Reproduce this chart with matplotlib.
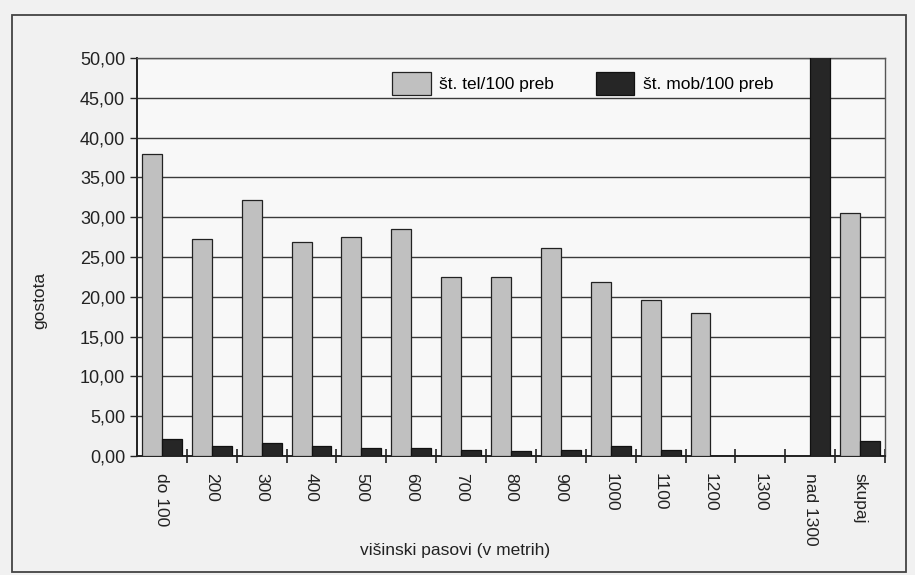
import numpy as np
import matplotlib
matplotlib.use("Agg")
import matplotlib.pyplot as plt
from matplotlib.patches import Rectangle
from matplotlib.ticker import FuncFormatter

plt.rcParams['font.family'] = ['Liberation Sans', 'DejaVu Sans']

categories = ["do 100", "200", "300", "400", "500", "600", "700", "800",
              "900", "1000", "1100", "1200", "1300", "nad 1300", "skupaj"]
tel = [38.0, 27.3, 32.2, 26.9, 27.5, 28.5, 22.5, 22.5,
       26.1, 21.8, 19.6, 18.0, 0.0, 0.0, 30.5]
mob = [2.1, 1.2, 1.65, 1.3, 1.0, 1.0, 0.8, 0.6,
       0.75, 1.2, 0.8, 0.0, 0.0, 60.0, 1.9]
yticks = [0, 5, 10, 15, 20, 25, 30, 35, 40, 45, 50]

W, H = 915, 575
fig = plt.figure(figsize=(W / 100, H / 100), dpi=100, facecolor="#f1f1f1")
ax = fig.add_axes([137 / W, 1 - 456 / H, (885 - 137) / W, (456 - 58) / H])
ax.set_facecolor("#f8f8f8")

x = np.arange(len(categories))
bw = 0.4
ax.bar(x - bw / 2, tel, bw, color="#c0c0c0", edgecolor="#222222",
       linewidth=0.9, label="št. tel/100 preb", zorder=3)
ax.bar(x + bw / 2, mob, bw, color="#262626", edgecolor="#111111",
       linewidth=0.9, label="št. mob/100 preb", zorder=3)

ax.set_xlim(-0.5, len(categories) - 0.5)
ax.set_ylim(0, 50)
ax.set_yticks(yticks)
ax.yaxis.set_major_formatter(FuncFormatter(lambda v, p: f"{v:.2f}".replace(".", ",")))
ax.yaxis.grid(True, color="#3a3a3a", linewidth=1.0, zorder=1)
ax.set_axisbelow(True)

ax.set_xticks(x)
ax.set_xticklabels(categories, rotation=270, va="top", ha="center")
ax.set_xticks(np.arange(0.5, len(categories) - 0.5 + 0.01, 1), minor=True)
ax.tick_params(axis="x", which="major", length=0, pad=12, labelsize=12.5, colors="#222222")
ax.tick_params(axis="x", which="minor", length=10, direction="inout", width=1.2, color="#222222")
ax.tick_params(axis="y", length=5, width=1.0, labelsize=13, colors="#222222")

for s in ["left", "bottom"]:
    ax.spines[s].set_color("#222222")
    ax.spines[s].set_linewidth(1.4)
for s in ["top", "right"]:
    ax.spines[s].set_color("#555555")
    ax.spines[s].set_linewidth(1.0)

ax.set_ylabel("gostota", fontsize=12.5, color="#222222", labelpad=0)
ax.yaxis.set_label_coords(-0.12, 0.39)
fig.text(455 / W, 1 - 550 / H, "višinski pasovi (v metrih)", fontsize=12.5,
         color="#222222", ha="center", va="center")

ax.legend(loc="upper center", bbox_to_anchor=(0.596, 1.0), ncol=2, frameon=False,
          fontsize=12.5, handlelength=2.2, handleheight=1.7, columnspacing=2.4,
          handletextpad=0.5, borderaxespad=0.4)

fig.add_artist(Rectangle((12 / W, 1 - 572 / H), (906 - 12) / W, (572 - 15) / H,
                         transform=fig.transFigure, fill=False,
                         edgecolor="#444444", linewidth=1.3))

fig.savefig("out.png", dpi=100, facecolor=fig.get_facecolor())
